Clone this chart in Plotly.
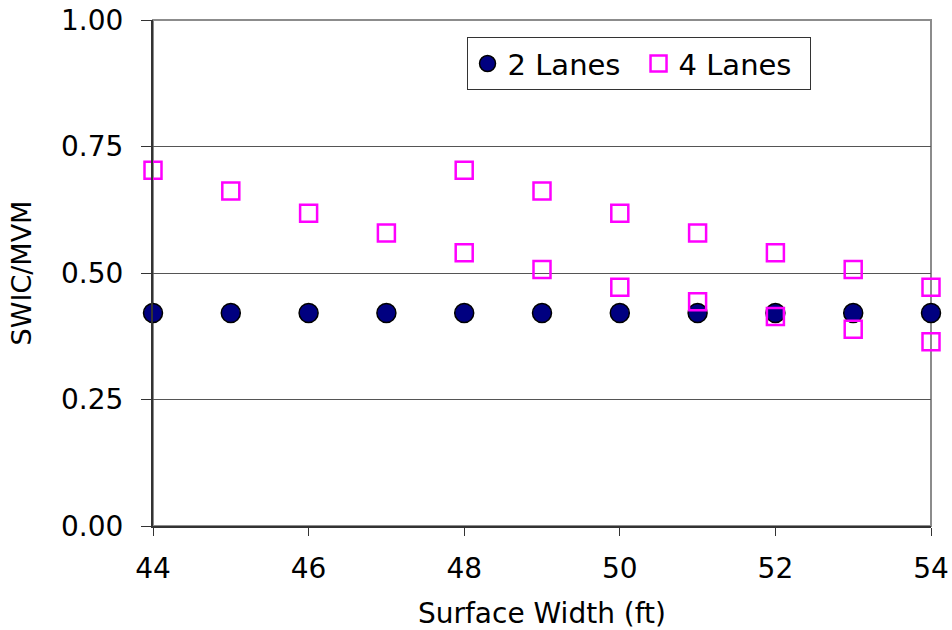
import plotly.graph_objects as go

x_two = [44, 45, 46, 47, 48, 49, 50, 51, 52, 53, 54]
y_two = [0.421, 0.421, 0.421, 0.421, 0.421, 0.421, 0.421, 0.421, 0.421, 0.421, 0.421]

x_four = [44, 45, 46, 47, 48, 49, 50, 51, 52, 53, 54,
          48, 49, 50, 51, 52, 53, 54]
y_four = [0.703, 0.662, 0.618, 0.579, 0.540, 0.507, 0.472, 0.443, 0.414, 0.389, 0.364,
          0.703, 0.662, 0.618, 0.579, 0.540, 0.507, 0.472]

y_ticks = [0, 0.25, 0.5, 0.75, 1.0]
y_tick_labels = ["0.00", "0.25", "0.50", "0.75", "1.00"]
x_ticks = [44, 46, 48, 50, 52, 54]

FONT = "DejaVu Sans, Liberation Sans, Arial, sans-serif"

fig = go.Figure()
fig.add_trace(go.Scatter(
    x=x_two, y=y_two, mode="markers", name="2 Lanes",
    marker=dict(symbol="circle", size=19, color="#000080",
                line=dict(color="black", width=1.5)),
    cliponaxis=False,
))
fig.add_trace(go.Scatter(
    x=x_four, y=y_four, mode="markers", name="4 Lanes",
    marker=dict(symbol="square-open", size=17, color="#FF00FF",
                line=dict(color="#FF00FF", width=2.5)),
    cliponaxis=False,
))

# plot-area border (top/right in gray)
fig.add_shape(type="rect", xref="paper", yref="paper", x0=0, y0=0, x1=1, y1=1,
              line=dict(color="#8c8c8c", width=2), layer="below")

fig.update_layout(
    width=952, height=630,
    margin=dict(l=153, r=21, t=20, b=104),
    paper_bgcolor="white", plot_bgcolor="white",
    font=dict(family=FONT, size=28, color="black"),
    showlegend=True,
    legend=dict(
        orientation="h", x=0.403, y=0.966, xanchor="left", yanchor="top",
        bgcolor="white", bordercolor="#333333", borderwidth=1,
        font=dict(family=FONT, size=29), itemwidth=30,
        entrywidth=126, entrywidthmode="pixels",
        tracegroupgap=0,
    ),
    xaxis=dict(
        range=[44, 54], tickvals=x_ticks, ticks="outside", ticklen=8,
        tickcolor="#333333", showline=True, linecolor="#333333", linewidth=2,
        showgrid=False, zeroline=False, automargin=False,
        ticklabeloverflow="allow", ticklabelstandoff=8,
        title=dict(text="Surface Width (ft)", font=dict(size=28), standoff=23),
        tickfont=dict(size=28),
    ),
    yaxis=dict(
        range=[0, 1], tickvals=y_ticks, ticktext=y_tick_labels, ticks="outside",
        ticklen=10, tickcolor="#333333", showline=True, linecolor="#333333",
        linewidth=2, showgrid=True, gridcolor="#555555", gridwidth=1,
        zeroline=False, automargin=False,
        ticklabeloverflow="allow", ticklabelstandoff=12,
        title=dict(text="SWIC/MVM", font=dict(size=27), standoff=22),
        tickfont=dict(size=28),
    ),
)

fig.write_html("out.html", config={"displayModeBar": False},
               post_script="document.body.style.margin='0';")
